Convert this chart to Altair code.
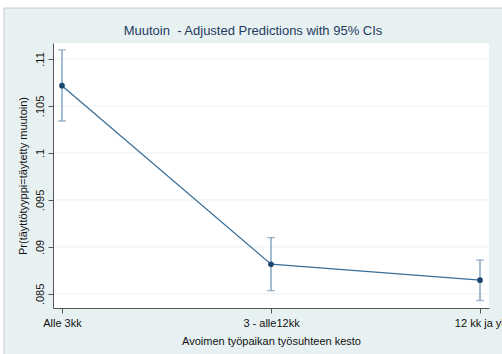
import altair as alt
import pandas as pd

# Adjusted predictions with 95% confidence intervals
categories = ["Alle 3kk", "3 - alle12kk", "12 kk ja yli"]
predictions = [0.10716, 0.08816, 0.08646]
ci_lower = [0.10340, 0.08535, 0.08430]
ci_upper = [0.11096, 0.09099, 0.08860]
y_ticks = [0.085, 0.09, 0.095, 0.1, 0.105, 0.11]
# non-breaking space keeps the double gap after the outcome name
title_text = "Muutoin\u00a0 - Adjusted Predictions with 95% CIs"

df = pd.DataFrame({
    "kesto": categories,
    "pred": predictions,
    "lo": ci_lower,
    "hi": ci_upper,
})
grid_df = pd.DataFrame({"tick": y_ticks})
one = pd.DataFrame({"k": [0]})

W, H = 436, 265
FONT = "Liberation Sans"
BG = "#E8F1F2"
FRAME = "#c4cccf"

x_enc = alt.X(
    "kesto:N",
    sort=categories,
    scale=alt.Scale(type="point", padding=0.043),
    axis=alt.Axis(
        title="Avoimen työpaikan työsuhteen kesto",
        labelAngle=0,
        labelFontSize=11,
        titleFontSize=11,
        labelPadding=4,
        titlePadding=7,
        tickSize=5,
        domainColor="#555555",
        tickColor="#555555",
        labelColor="#111111",
        titleColor="#111111",
        labelFont=FONT,
        titleFont=FONT,
        titleFontWeight="normal",
        grid=False,
        zindex=1,
    ),
)
y_scale = alt.Scale(domain=[0.0835, 0.1117], nice=False, zero=False)
y_axis = alt.Axis(
    title="Pr(täyttötyyppi=täytetty muutoin)",
    values=y_ticks,
    labelExpr="replace(format(datum.value, '~g'), '0.', '.')",
    labelAngle=-90,
    labelAlign="center",
    labelBaseline="bottom",
    labelFontSize=11,
    titleFontSize=11,
    labelPadding=3,
    titlePadding=6,
    tickSize=5,
    domainColor="#555555",
    tickColor="#555555",
    labelColor="#111111",
    titleColor="#111111",
    labelFont=FONT,
    titleFont=FONT,
    titleFontWeight="normal",
    grid=False,
    zindex=1,
)

# white margin outside the graph region, and its thin frame
top_strip = alt.Chart(one).mark_rect(fill="white").encode(
    x=alt.value(-60), x2=alt.value(W + 40), y=alt.value(-50), y2=alt.value(-35)
)
left_strip = alt.Chart(one).mark_rect(fill="white").encode(
    x=alt.value(-60), x2=alt.value(-49), y=alt.value(-50), y2=alt.value(H + 60)
)
frame_top = alt.Chart(one).mark_rule(color=FRAME, strokeWidth=1).encode(
    x=alt.value(-49), x2=alt.value(W + 40), y=alt.value(-35)
)
frame_left = alt.Chart(one).mark_rule(color=FRAME, strokeWidth=1).encode(
    x=alt.value(-49), y=alt.value(-35), y2=alt.value(H + 60)
)
# white plot region
inner = alt.Chart(one).mark_rect(fill="white").encode(
    x=alt.value(0), x2=alt.value(W), y=alt.value(0), y2=alt.value(H)
)
title = alt.Chart(one).mark_text(
    font=FONT, fontSize=13, color="#1e3a5f", align="center", baseline="middle"
).encode(x=alt.value(200), y=alt.value(-12), text=alt.value(title_text))

grid = alt.Chart(grid_df).mark_rule(color=BG, strokeWidth=1).encode(
    y=alt.Y("tick:Q", scale=y_scale, axis=y_axis),
    x=alt.value(0), x2=alt.value(W),
)

base = alt.Chart(df)
line = base.mark_line(color="#3a6f99", strokeWidth=1.3).encode(
    x=x_enc, y=alt.Y("pred:Q", scale=y_scale)
)
bars = base.mark_rule(color="#7399bb", strokeWidth=1.3).encode(
    x=x_enc, y=alt.Y("lo:Q", scale=y_scale), y2="hi:Q"
)
cap_lo = base.mark_tick(color="#7399bb", orient="horizontal", size=8, thickness=1.3).encode(
    x=x_enc, y=alt.Y("lo:Q", scale=y_scale)
)
cap_hi = base.mark_tick(color="#7399bb", orient="horizontal", size=8, thickness=1.3).encode(
    x=x_enc, y=alt.Y("hi:Q", scale=y_scale)
)
points = base.mark_point(filled=True, color="#1a476f", size=32, opacity=1).encode(
    x=x_enc, y=alt.Y("pred:Q", scale=y_scale)
)

chart = alt.layer(
    top_strip, left_strip, frame_top, frame_left, inner, title,
    grid, line, bars, cap_lo, cap_hi, points,
).properties(
    width=W,
    height=H,
    padding={"left": 53, "top": 43, "right": 13, "bottom": 46},
    autosize=alt.AutoSizeParams(type="none"),
    background=BG,
).configure_view(stroke=None)

chart.save("out.html", embed_options={"renderer": "svg", "actions": False})
